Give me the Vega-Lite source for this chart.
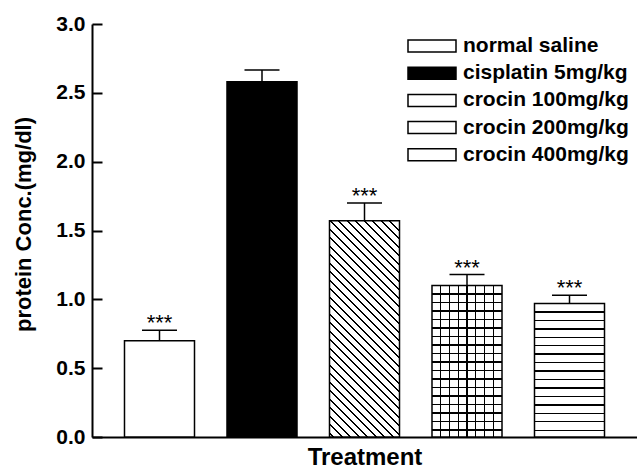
{
 "$schema": "https://vega.github.io/schema/vega-lite/v6.json",
 "width": 545, "height": 413,
 "autosize": "none",
 "padding": {"left": 92, "top": 24, "right": 0, "bottom": 34},
 "background": "white",
 "config": {"view": {"stroke": null}, "font": "Liberation Sans"},
 "data": {"values": [
  {"group": "normal saline", "value": 0.70, "upper": 0.775, "sig": "***"},
  {"group": "cisplatin 5mg/kg", "value": 2.58, "upper": 2.665, "sig": ""},
  {"group": "crocin 100mg/kg", "value": 1.57, "upper": 1.70, "sig": "***"},
  {"group": "crocin 200mg/kg", "value": 1.10, "upper": 1.18, "sig": "***"},
  {"group": "crocin 400mg/kg", "value": 0.97, "upper": 1.03, "sig": "***"}
 ]},
 "layer": [
  {
   "mark": {"type": "bar", "stroke": "black", "strokeWidth": 1.5},
   "encoding": {
    "x": {"field": "group", "type": "nominal", "sort": null,
          "scale": {"paddingInner": 0.317, "paddingOuter": 0.317},
          "axis": {"title": "Treatment", "labels": false, "ticks": false, "domainColor": "black", "domainWidth": 2,
                   "titleFont": "Liberation Sans", "titleFontSize": 24, "titleFontWeight": "bold", "titleColor": "black", "titlePadding": 8}},
    "y": {"field": "value", "type": "quantitative",
          "scale": {"domain": [0, 3], "nice": false},
          "axis": {"title": "protein Conc.(mg/dl)", "values": [0, 0.5, 1, 1.5, 2, 2.5, 3], "format": ".1f", "grid": false,
                   "domainColor": "black", "domainWidth": 2, "tickColor": "black", "tickWidth": 2, "tickSize": -10,
                   "labelPadding": 17, "labelFont": "Liberation Sans", "labelFontSize": 21, "labelFontWeight": "bold", "labelColor": "black",
                   "titleFont": "Liberation Sans", "titleFontSize": 22, "titleFontWeight": "bold", "titleColor": "black", "titlePadding": 20, "titleY": 200}},
    "fill": {"field": "group", "type": "nominal", "sort": null,
     "scale": {"domain": ["normal saline", "cisplatin 5mg/kg", "crocin 100mg/kg", "crocin 200mg/kg", "crocin 400mg/kg"],
      "range": ["#ffffff", "#000000", "#ffffff", "#ffffff", "#ffffff"]},
     "condition": [
       {"test": "datum.group === 'crocin 100mg/kg'", "value": {"gradient": "linear", "x1": 0, "y1": 1, "x2": 0.3881, "y2": -0.1983, "stops": [
        {"offset": 0, "color": "#fff"},
        {"offset": 0.0119, "color": "#fff"}, {"offset": 0.0119, "color": "#000"}, {"offset": 0.0179, "color": "#000"}, {"offset": 0.0179, "color": "#fff"},
        {"offset": 0.0416, "color": "#fff"}, {"offset": 0.0416, "color": "#000"}, {"offset": 0.0476, "color": "#000"}, {"offset": 0.0476, "color": "#fff"},
        {"offset": 0.0713, "color": "#fff"}, {"offset": 0.0713, "color": "#000"}, {"offset": 0.0773, "color": "#000"}, {"offset": 0.0773, "color": "#fff"},
        {"offset": 0.1010, "color": "#fff"}, {"offset": 0.1010, "color": "#000"}, {"offset": 0.1070, "color": "#000"}, {"offset": 0.1070, "color": "#fff"},
        {"offset": 0.1307, "color": "#fff"}, {"offset": 0.1307, "color": "#000"}, {"offset": 0.1367, "color": "#000"}, {"offset": 0.1367, "color": "#fff"},
        {"offset": 0.1605, "color": "#fff"}, {"offset": 0.1605, "color": "#000"}, {"offset": 0.1665, "color": "#000"}, {"offset": 0.1665, "color": "#fff"},
        {"offset": 0.1902, "color": "#fff"}, {"offset": 0.1902, "color": "#000"}, {"offset": 0.1962, "color": "#000"}, {"offset": 0.1962, "color": "#fff"},
        {"offset": 0.2199, "color": "#fff"}, {"offset": 0.2199, "color": "#000"}, {"offset": 0.2259, "color": "#000"}, {"offset": 0.2259, "color": "#fff"},
        {"offset": 0.2496, "color": "#fff"}, {"offset": 0.2496, "color": "#000"}, {"offset": 0.2556, "color": "#000"}, {"offset": 0.2556, "color": "#fff"},
        {"offset": 0.2793, "color": "#fff"}, {"offset": 0.2793, "color": "#000"}, {"offset": 0.2853, "color": "#000"}, {"offset": 0.2853, "color": "#fff"},
        {"offset": 0.3090, "color": "#fff"}, {"offset": 0.3090, "color": "#000"}, {"offset": 0.3150, "color": "#000"}, {"offset": 0.3150, "color": "#fff"},
        {"offset": 0.3387, "color": "#fff"}, {"offset": 0.3387, "color": "#000"}, {"offset": 0.3447, "color": "#000"}, {"offset": 0.3447, "color": "#fff"},
        {"offset": 0.3684, "color": "#fff"}, {"offset": 0.3684, "color": "#000"}, {"offset": 0.3744, "color": "#000"}, {"offset": 0.3744, "color": "#fff"},
        {"offset": 0.3981, "color": "#fff"}, {"offset": 0.3981, "color": "#000"}, {"offset": 0.4041, "color": "#000"}, {"offset": 0.4041, "color": "#fff"},
        {"offset": 0.4278, "color": "#fff"}, {"offset": 0.4278, "color": "#000"}, {"offset": 0.4338, "color": "#000"}, {"offset": 0.4338, "color": "#fff"},
        {"offset": 0.4576, "color": "#fff"}, {"offset": 0.4576, "color": "#000"}, {"offset": 0.4636, "color": "#000"}, {"offset": 0.4636, "color": "#fff"},
        {"offset": 0.4873, "color": "#fff"}, {"offset": 0.4873, "color": "#000"}, {"offset": 0.4933, "color": "#000"}, {"offset": 0.4933, "color": "#fff"},
        {"offset": 0.5170, "color": "#fff"}, {"offset": 0.5170, "color": "#000"}, {"offset": 0.5230, "color": "#000"}, {"offset": 0.5230, "color": "#fff"},
        {"offset": 0.5467, "color": "#fff"}, {"offset": 0.5467, "color": "#000"}, {"offset": 0.5527, "color": "#000"}, {"offset": 0.5527, "color": "#fff"},
        {"offset": 0.5764, "color": "#fff"}, {"offset": 0.5764, "color": "#000"}, {"offset": 0.5824, "color": "#000"}, {"offset": 0.5824, "color": "#fff"},
        {"offset": 0.6061, "color": "#fff"}, {"offset": 0.6061, "color": "#000"}, {"offset": 0.6121, "color": "#000"}, {"offset": 0.6121, "color": "#fff"},
        {"offset": 0.6358, "color": "#fff"}, {"offset": 0.6358, "color": "#000"}, {"offset": 0.6418, "color": "#000"}, {"offset": 0.6418, "color": "#fff"},
        {"offset": 0.6655, "color": "#fff"}, {"offset": 0.6655, "color": "#000"}, {"offset": 0.6715, "color": "#000"}, {"offset": 0.6715, "color": "#fff"},
        {"offset": 0.6952, "color": "#fff"}, {"offset": 0.6952, "color": "#000"}, {"offset": 0.7012, "color": "#000"}, {"offset": 0.7012, "color": "#fff"},
        {"offset": 0.7249, "color": "#fff"}, {"offset": 0.7249, "color": "#000"}, {"offset": 0.7309, "color": "#000"}, {"offset": 0.7309, "color": "#fff"},
        {"offset": 0.7547, "color": "#fff"}, {"offset": 0.7547, "color": "#000"}, {"offset": 0.7607, "color": "#000"}, {"offset": 0.7607, "color": "#fff"},
        {"offset": 0.7844, "color": "#fff"}, {"offset": 0.7844, "color": "#000"}, {"offset": 0.7904, "color": "#000"}, {"offset": 0.7904, "color": "#fff"},
        {"offset": 0.8141, "color": "#fff"}, {"offset": 0.8141, "color": "#000"}, {"offset": 0.8201, "color": "#000"}, {"offset": 0.8201, "color": "#fff"},
        {"offset": 0.8438, "color": "#fff"}, {"offset": 0.8438, "color": "#000"}, {"offset": 0.8498, "color": "#000"}, {"offset": 0.8498, "color": "#fff"},
        {"offset": 0.8735, "color": "#fff"}, {"offset": 0.8735, "color": "#000"}, {"offset": 0.8795, "color": "#000"}, {"offset": 0.8795, "color": "#fff"},
        {"offset": 0.9032, "color": "#fff"}, {"offset": 0.9032, "color": "#000"}, {"offset": 0.9092, "color": "#000"}, {"offset": 0.9092, "color": "#fff"},
        {"offset": 0.9329, "color": "#fff"}, {"offset": 0.9329, "color": "#000"}, {"offset": 0.9389, "color": "#000"}, {"offset": 0.9389, "color": "#fff"},
        {"offset": 0.9626, "color": "#fff"}, {"offset": 0.9626, "color": "#000"}, {"offset": 0.9686, "color": "#000"}, {"offset": 0.9686, "color": "#fff"},
        {"offset": 1, "color": "#fff"}
       ]}},
       {"test": "datum.group === 'crocin 200mg/kg'", "value": {"gradient": "linear", "x1": 0, "y1": 0, "x2": 0, "y2": 1, "stops": [
        {"offset": 0, "color": "#fff"},
        {"offset": 0.0515, "color": "#fff"}, {"offset": 0.0515, "color": "#000"}, {"offset": 0.0607, "color": "#000"}, {"offset": 0.0607, "color": "#fff"},
        {"offset": 0.1077, "color": "#fff"}, {"offset": 0.1077, "color": "#000"}, {"offset": 0.1169, "color": "#000"}, {"offset": 0.1169, "color": "#fff"},
        {"offset": 0.1638, "color": "#fff"}, {"offset": 0.1638, "color": "#000"}, {"offset": 0.1730, "color": "#000"}, {"offset": 0.1730, "color": "#fff"},
        {"offset": 0.2200, "color": "#fff"}, {"offset": 0.2200, "color": "#000"}, {"offset": 0.2292, "color": "#000"}, {"offset": 0.2292, "color": "#fff"},
        {"offset": 0.2761, "color": "#fff"}, {"offset": 0.2761, "color": "#000"}, {"offset": 0.2853, "color": "#000"}, {"offset": 0.2853, "color": "#fff"},
        {"offset": 0.3322, "color": "#fff"}, {"offset": 0.3322, "color": "#000"}, {"offset": 0.3414, "color": "#000"}, {"offset": 0.3414, "color": "#fff"},
        {"offset": 0.3884, "color": "#fff"}, {"offset": 0.3884, "color": "#000"}, {"offset": 0.3976, "color": "#000"}, {"offset": 0.3976, "color": "#fff"},
        {"offset": 0.4445, "color": "#fff"}, {"offset": 0.4445, "color": "#000"}, {"offset": 0.4537, "color": "#000"}, {"offset": 0.4537, "color": "#fff"},
        {"offset": 0.5007, "color": "#fff"}, {"offset": 0.5007, "color": "#000"}, {"offset": 0.5099, "color": "#000"}, {"offset": 0.5099, "color": "#fff"},
        {"offset": 0.5568, "color": "#fff"}, {"offset": 0.5568, "color": "#000"}, {"offset": 0.5660, "color": "#000"}, {"offset": 0.5660, "color": "#fff"},
        {"offset": 0.6129, "color": "#fff"}, {"offset": 0.6129, "color": "#000"}, {"offset": 0.6221, "color": "#000"}, {"offset": 0.6221, "color": "#fff"},
        {"offset": 0.6691, "color": "#fff"}, {"offset": 0.6691, "color": "#000"}, {"offset": 0.6783, "color": "#000"}, {"offset": 0.6783, "color": "#fff"},
        {"offset": 0.7252, "color": "#fff"}, {"offset": 0.7252, "color": "#000"}, {"offset": 0.7344, "color": "#000"}, {"offset": 0.7344, "color": "#fff"},
        {"offset": 0.7814, "color": "#fff"}, {"offset": 0.7814, "color": "#000"}, {"offset": 0.7906, "color": "#000"}, {"offset": 0.7906, "color": "#fff"},
        {"offset": 0.8375, "color": "#fff"}, {"offset": 0.8375, "color": "#000"}, {"offset": 0.8467, "color": "#000"}, {"offset": 0.8467, "color": "#fff"},
        {"offset": 0.8936, "color": "#fff"}, {"offset": 0.8936, "color": "#000"}, {"offset": 0.9028, "color": "#000"}, {"offset": 0.9028, "color": "#fff"},
        {"offset": 0.9498, "color": "#fff"}, {"offset": 0.9498, "color": "#000"}, {"offset": 0.9590, "color": "#000"}, {"offset": 0.9590, "color": "#fff"},
        {"offset": 1, "color": "#fff"}
       ]}},
       {"test": "datum.group === 'crocin 400mg/kg'", "value": {"gradient": "linear", "x1": 0, "y1": 0, "x2": 0, "y2": 1, "stops": [
        {"offset": 0, "color": "#fff"},
        {"offset": 0.0581, "color": "#fff"}, {"offset": 0.0581, "color": "#000"}, {"offset": 0.0685, "color": "#000"}, {"offset": 0.0685, "color": "#fff"},
        {"offset": 0.1214, "color": "#fff"}, {"offset": 0.1214, "color": "#000"}, {"offset": 0.1318, "color": "#000"}, {"offset": 0.1318, "color": "#fff"},
        {"offset": 0.1847, "color": "#fff"}, {"offset": 0.1847, "color": "#000"}, {"offset": 0.1951, "color": "#000"}, {"offset": 0.1951, "color": "#fff"},
        {"offset": 0.2480, "color": "#fff"}, {"offset": 0.2480, "color": "#000"}, {"offset": 0.2584, "color": "#000"}, {"offset": 0.2584, "color": "#fff"},
        {"offset": 0.3113, "color": "#fff"}, {"offset": 0.3113, "color": "#000"}, {"offset": 0.3217, "color": "#000"}, {"offset": 0.3217, "color": "#fff"},
        {"offset": 0.3746, "color": "#fff"}, {"offset": 0.3746, "color": "#000"}, {"offset": 0.3850, "color": "#000"}, {"offset": 0.3850, "color": "#fff"},
        {"offset": 0.4379, "color": "#fff"}, {"offset": 0.4379, "color": "#000"}, {"offset": 0.4483, "color": "#000"}, {"offset": 0.4483, "color": "#fff"},
        {"offset": 0.5012, "color": "#fff"}, {"offset": 0.5012, "color": "#000"}, {"offset": 0.5116, "color": "#000"}, {"offset": 0.5116, "color": "#fff"},
        {"offset": 0.5645, "color": "#fff"}, {"offset": 0.5645, "color": "#000"}, {"offset": 0.5749, "color": "#000"}, {"offset": 0.5749, "color": "#fff"},
        {"offset": 0.6278, "color": "#fff"}, {"offset": 0.6278, "color": "#000"}, {"offset": 0.6382, "color": "#000"}, {"offset": 0.6382, "color": "#fff"},
        {"offset": 0.6911, "color": "#fff"}, {"offset": 0.6911, "color": "#000"}, {"offset": 0.7015, "color": "#000"}, {"offset": 0.7015, "color": "#fff"},
        {"offset": 0.7544, "color": "#fff"}, {"offset": 0.7544, "color": "#000"}, {"offset": 0.7648, "color": "#000"}, {"offset": 0.7648, "color": "#fff"},
        {"offset": 0.8177, "color": "#fff"}, {"offset": 0.8177, "color": "#000"}, {"offset": 0.8281, "color": "#000"}, {"offset": 0.8281, "color": "#fff"},
        {"offset": 0.8810, "color": "#fff"}, {"offset": 0.8810, "color": "#000"}, {"offset": 0.8914, "color": "#000"}, {"offset": 0.8914, "color": "#fff"},
        {"offset": 0.9443, "color": "#fff"}, {"offset": 0.9443, "color": "#000"}, {"offset": 0.9547, "color": "#000"}, {"offset": 0.9547, "color": "#fff"},
        {"offset": 1, "color": "#fff"}
       ]}}
     ],
     "legend": {
      "title": null, "orient": "none", "legendX": 316, "legendY": 9, "padding": 0,
      "symbolType": "M-2,-0.5H2V0.5H-2Z", "symbolSize": 576, "symbolOffset": 11, "symbolStrokeWidth": 1.5, "symbolOpacity": 1,
      "labelOffset": 18, "labelFont": "Liberation Sans", "labelFontSize": 21, "labelFontWeight": "bold", "labelColor": "black", "labelLimit": 400,
      "rowPadding": 4.2,
      "encode": {"symbols": {
       "stroke": {"value": "black"},
       "strokeWidth": {"value": 1.5},
       "shape": {"value": {"expr": "datum.value === 'crocin 100mg/kg' ? 'M-2,-0.5H2V0.5H-2Z M-2,0.1L-1.6,0.5 M-1.89,-0.5L-0.89,0.5 M-1.18,-0.5L-0.18,0.5 M-0.47,-0.5L0.53,0.5 M0.24,-0.5L1.24,0.5 M0.95,-0.5L1.95,0.5 M1.66,-0.5L2,-0.16' : datum.value === 'crocin 200mg/kg' ? 'M-2,-0.5H2V0.5H-2Z M-1.2,-0.5V0.5 M-0.4,-0.5V0.5 M0.4,-0.5V0.5 M1.2,-0.5V0.5 M-2,0.21H2' : datum.value === 'crocin 400mg/kg' ? 'M-2,-0.5H2V0.5H-2Z M-2,0H2' : 'M-2,-0.5H2V0.5H-2Z'"}}
      }}
     }
    }
   }
  },
  {
   "transform": [{"filter": "datum.group === 'crocin 200mg/kg'"}],
   "mark": {"type": "bar", "strokeWidth": 0, "fill": {"gradient": "linear", "x1": 0, "y1": 0, "x2": 1, "y2": 0, "stops": [
     {"offset": 0, "color": "rgba(0,0,0,0)"},
     {"offset": 0.115, "color": "rgba(0,0,0,0)"}, {"offset": 0.115, "color": "#000"}, {"offset": 0.135, "color": "#000"}, {"offset": 0.135, "color": "rgba(0,0,0,0)"},
     {"offset": 0.24, "color": "rgba(0,0,0,0)"}, {"offset": 0.24, "color": "#000"}, {"offset": 0.26, "color": "#000"}, {"offset": 0.26, "color": "rgba(0,0,0,0)"},
     {"offset": 0.365, "color": "rgba(0,0,0,0)"}, {"offset": 0.365, "color": "#000"}, {"offset": 0.385, "color": "#000"}, {"offset": 0.385, "color": "rgba(0,0,0,0)"},
     {"offset": 0.49, "color": "rgba(0,0,0,0)"}, {"offset": 0.49, "color": "#000"}, {"offset": 0.51, "color": "#000"}, {"offset": 0.51, "color": "rgba(0,0,0,0)"},
     {"offset": 0.615, "color": "rgba(0,0,0,0)"}, {"offset": 0.615, "color": "#000"}, {"offset": 0.635, "color": "#000"}, {"offset": 0.635, "color": "rgba(0,0,0,0)"},
     {"offset": 0.74, "color": "rgba(0,0,0,0)"}, {"offset": 0.74, "color": "#000"}, {"offset": 0.76, "color": "#000"}, {"offset": 0.76, "color": "rgba(0,0,0,0)"},
     {"offset": 0.865, "color": "rgba(0,0,0,0)"}, {"offset": 0.865, "color": "#000"}, {"offset": 0.885, "color": "#000"}, {"offset": 0.885, "color": "rgba(0,0,0,0)"},
     {"offset": 1, "color": "rgba(0,0,0,0)"}]}},
   "encoding": {
    "x": {"field": "group", "type": "nominal", "sort": null},
    "y": {"field": "value", "type": "quantitative"}
   }
  },
  {
   "mark": {"type": "rule", "color": "black", "strokeWidth": 1.5},
   "encoding": {
    "x": {"field": "group", "type": "nominal", "sort": null},
    "y": {"field": "value", "type": "quantitative"},
    "y2": {"field": "upper"}
   }
  },
  {
   "mark": {"type": "tick", "color": "black", "size": 35, "thickness": 1.5, "opacity": 1},
   "encoding": {
    "x": {"field": "group", "type": "nominal", "sort": null},
    "y": {"field": "upper", "type": "quantitative"}
   }
  },
  {
   "mark": {"type": "text", "font": "Liberation Sans", "fontSize": 22, "color": "black", "baseline": "alphabetic", "dy": 0},
   "encoding": {
    "x": {"field": "group", "type": "nominal", "sort": null},
    "y": {"field": "upper", "type": "quantitative"},
    "text": {"field": "sig"}
   }
  }
 ]
}
